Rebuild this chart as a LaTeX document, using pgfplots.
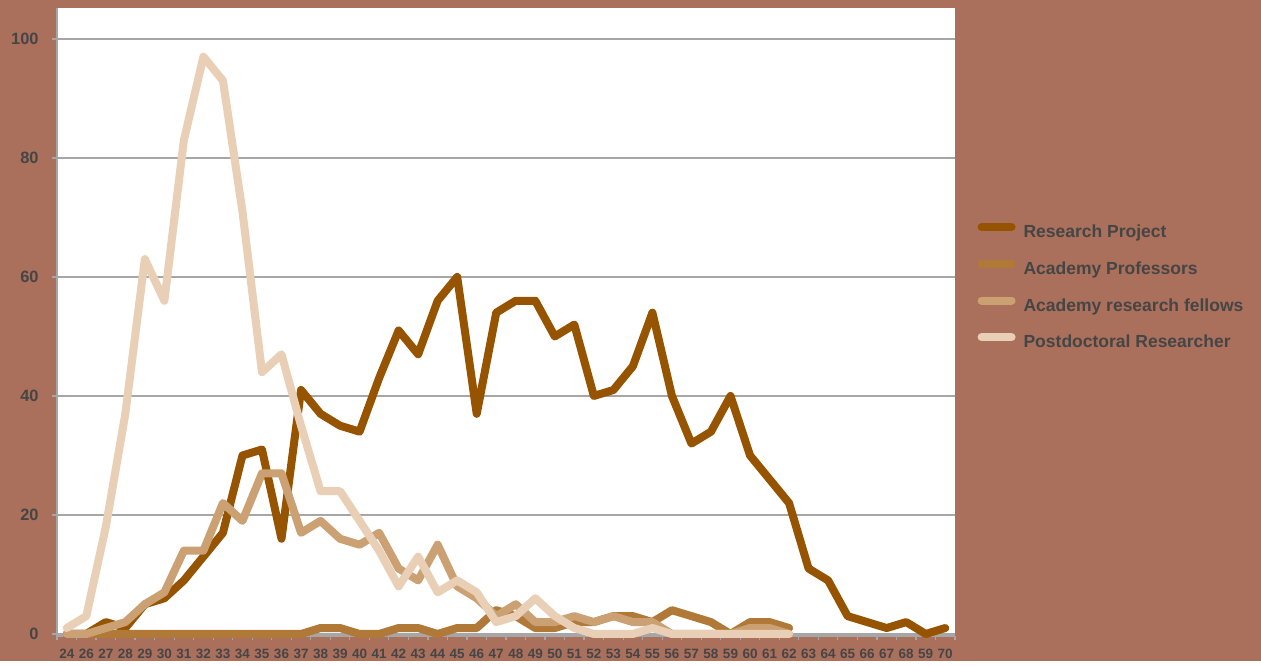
\documentclass[border=0pt]{standalone}
\usepackage{fontspec}
\setmainfont{Liberation Sans}
\usepackage{pgfplots}
\pgfplotsset{compat=1.18}

\definecolor{bgcol}{HTML}{AA705C}
\definecolor{rp}{HTML}{965400}
\definecolor{ap}{HTML}{B17938}
\definecolor{arf}{HTML}{CBA072}
\definecolor{pdr}{HTML}{E8CFB6}
\definecolor{gridc}{HTML}{A6A6A6}
\definecolor{txt}{HTML}{454545}

\begin{document}
\begin{tikzpicture}
% page background
\fill[bgcol] (0,0) rectangle (630.5pt,330.5pt);
\begin{axis}[
    at={(28.5pt,12.5pt)}, anchor=south west,
    width=449pt, height=314pt, scale only axis,
    xmin=-0.5, xmax=45.5, ymin=-0.34, ymax=105.2,
    clip=false,
    axis background/.style={fill=white},
    axis x line*=bottom, axis y line*=left,
    axis line style={gridc, line width=0.75pt, -},
    ymajorgrids, grid style={gridc, line width=0.75pt},
    ytick={0,20,...,100},
    xtick={0,...,45},
    xticklabels={24,26,27,28,29,30,31,32,33,34,35,36,37,38,39,40,41,42,43,44,45,46,47,48,49,50,51,52,53,54,55,56,57,58,59,60,61,62,63,64,65,66,67,68,59,70},
    minor xtick={-0.5,0.5,...,45.5},
    tick align=outside,
    major x tick style={draw=none},
    minor x tick style={gridc, line width=0.6pt},
    minor tick length=2pt,
    major tick length=2.5pt,
    ytick style={gridc, line width=0.6pt},
    /pgf/number format/assume math mode=true,
    xticklabel style={font=\bfseries\fontsize{6.75}{8}\selectfont, text=txt, yshift=-0.75pt},
    yticklabel style={font=\bfseries\fontsize{8.2}{9}\selectfont, text=txt, inner xsep=0pt, xshift=-6.5pt},
    legend style={at={(1.018,0.555)}, anchor=west, draw=none, fill=none,
        font=\bfseries\fontsize{8.75}{10}\selectfont, text=txt,
        nodes={inner sep=0pt, text height=6.5pt, text depth=2pt},
        row sep=9.1pt,
        /tikz/every odd column/.append style={column sep=4pt}},
    legend cell align=left,
    legend image code/.code={\draw[#1, line width=4pt, line cap=round] (0pt,3pt) -- (15pt,3pt);},
    every axis plot/.append style={line width=4pt, line cap=round, line join=round},
]
\addplot[rp] coordinates {
 (0,0) (1,0) (2,2) (3,1) (4,5) (5,6) (6,9) (7,13) (8,17) (9,30)
 (10,31) (11,16) (12,41) (13,37) (14,35) (15,34) (16,43) (17,51) (18,47) (19,56)
 (20,60) (21,37) (22,54) (23,56) (24,56) (25,50) (26,52) (27,40) (28,41) (29,45)
 (30,54) (31,40) (32,32) (33,34) (34,40) (35,30) (36,26) (37,22) (38,11) (39,9)
 (40,3) (41,2) (42,1) (43,2) (44,0) (45,1)
};
\addlegendentry{Research Project}
\addplot[ap] coordinates {
 (0,0) (1,0) (2,0) (3,0) (4,0) (5,0) (6,0) (7,0) (8,0) (9,0)
 (10,0) (11,0) (12,0) (13,1) (14,1) (15,0) (16,0) (17,1) (18,1) (19,0)
 (20,1) (21,1) (22,4) (23,3) (24,1) (25,1) (26,2) (27,2) (28,3) (29,3)
 (30,2) (31,4) (32,3) (33,2) (34,0) (35,2) (36,2) (37,1)
};
\addlegendentry{Academy Professors}
\addplot[arf] coordinates {
 (0,0) (1,0) (2,1) (3,2) (4,5) (5,7) (6,14) (7,14) (8,22) (9,19)
 (10,27) (11,27) (12,17) (13,19) (14,16) (15,15) (16,17) (17,11) (18,9) (19,15)
 (20,8) (21,6) (22,3) (23,5) (24,2) (25,2) (26,3) (27,2) (28,3) (29,2)
 (30,2) (31,0) (32,0) (33,0) (34,0) (35,1) (36,1) (37,0)
};
\addlegendentry{Academy research fellows}
\addplot[pdr] coordinates {
 (0,1) (1,3) (2,18) (3,37) (4,63) (5,56) (6,83) (7,97) (8,93) (9,71)
 (10,44) (11,47) (12,35) (13,24) (14,24) (15,19) (16,14) (17,8) (18,13) (19,7)
 (20,9) (21,7) (22,2) (23,3) (24,6) (25,3) (26,1) (27,0) (28,0) (29,0)
 (30,1) (31,0) (32,0) (33,0) (34,0) (35,0) (36,0) (37,0)
};
\addlegendentry{Postdoctoral Researcher}
\end{axis}
\end{tikzpicture}
\end{document}
